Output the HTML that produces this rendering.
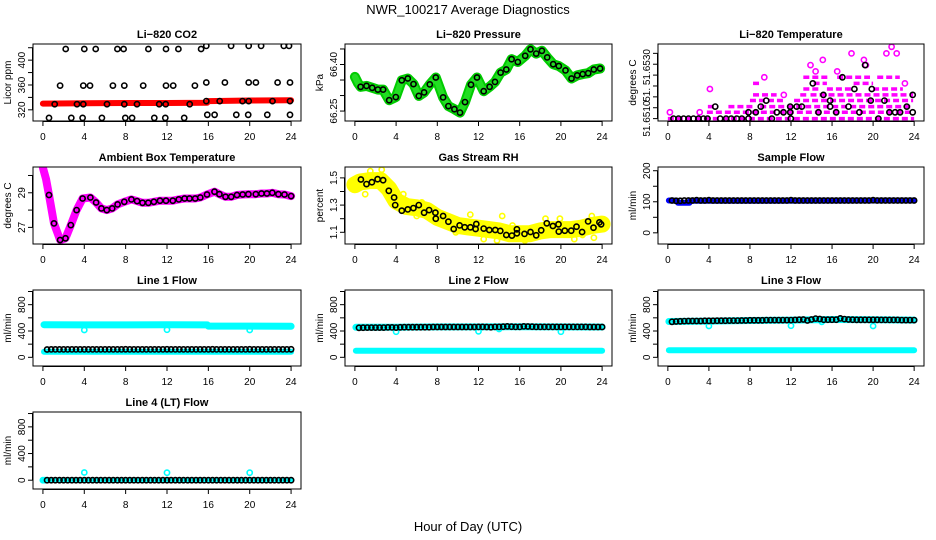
<!DOCTYPE html>
<html><head><meta charset="utf-8"><title>NWR_100217 Average Diagnostics</title>
<style>
html,body{margin:0;padding:0;background:#fff;}
svg{display:block;font-family:"Liberation Sans",Arial,sans-serif;}
</style></head>
<body>
<svg id="chart" width="936" height="540" viewBox="0 0 936 540" xmlns="http://www.w3.org/2000/svg">
<rect x="0" y="0" width="936" height="540" fill="#fff"/>
<text x="468" y="14" font-size="13" text-anchor="middle">NWR_100217  Average Diagnostics</text>
<text x="468" y="531" font-size="13" text-anchor="middle">Hour of Day (UTC)</text>
</svg>
<script>
// ---------- shared ----------
const xTicks = [0,4,8,12,16,20,24];
const H = [0.4,0.8,1.2,1.6,2,2.4,2.8,3.2,3.6,4,4.4,4.8,5.2,5.6,6,6.4,6.8,7.2,7.6,8,8.4,8.8,9.2,9.6,10,10.4,10.8,11.2,11.6,12,12.4,12.8,13.2,13.6,14,14.4,14.8,15.2,15.6,16,16.4,16.8,17.2,17.6,18,18.4,18.8,19.2,19.6,20,20.4,20.8,21.2,21.6,22,22.4,22.8,23.2,23.6,24];

// ---------- CO2 ----------
const co2BandT = [0,4,8,12,15.9,16,20,24];
const co2BandV = [330,330.5,331,331,331.5,334,335,335.5];
const co2T = [2.2,4.0,5.1,7.2,7.8,10.2,11.9,13.1,15.3,15.8,18.2,19.9,21.1,23.3,23.8,
  1.66,3.9,4.55,6.77,7.87,9.7,11.9,12.6,14.7,15.8,17.6,19.9,20.6,22.7,23.9,
  1.14,3.3,3.9,6.2,7.87,9.1,11.25,11.87,14.2,15.8,17.1,19.3,19.9,22.2,23.9,
  0.59,2.74,3.84,5.7,7.97,8.62,10.77,11.84,13.66,15.9,16.6,18.7,19.85,21.7,23.9];
const co2V = [418,418,418,418,418,418,418,418,418,423,423,423,423,423,423,
  359,359,359,359,359,359,359,359,359,364,364,364,364,364,364,
  329,329,329,329,329,329,329,329,329,334,334,334,334,334,334,
  307,307,307,307,307,307,307,307,307,312,312,312,312,312,312];

// ---------- Pressure ----------
const presT = [0.55,1.13,1.68,2.23,2.74,3.33,3.97,4.55,5.14,5.69,6.2,6.72,7.27,7.85,8.56,9.08,9.66,10.2,10.69,11.27,11.85,12.5,13.08,13.6,14.15,14.7,15.21,15.82,16.53,17.05,17.6,18.15,18.67,19.25,19.8,20.45,21.03,21.58,22.12,22.65,23.19,23.8];
const presV = [66.328,66.331,66.325,66.319,66.319,66.285,66.295,66.349,66.355,66.337,66.299,66.31,66.336,66.358,66.294,66.266,66.256,66.245,66.279,66.335,66.358,66.314,66.328,66.344,66.374,66.384,66.417,66.408,66.428,66.449,66.435,66.444,66.423,66.401,66.395,66.381,66.355,66.365,66.369,66.372,66.384,66.387];
const presBandT = [0,0.3].concat(presT);
const presBandV = [66.36,66.34].concat(presV);

// ---------- Li-820 temperature ----------
const tempSegStart = [0,3.8,3.9,5.9,9.0,8.0,12.3,8.3,12.9,13.9,13.2,15.5,20.0,8.3,14.2,18.1,13.2,16.5,20.4];
const tempSegEnd   = [24,23.9,4.8,8.3,23.9,11.4,23.9,10.6,13.5,23.9,14.8,18.1,22.9,9.0,15.5,20.0,15.8,19.7,22.6];
const tempSegV     = [51.6510,51.65129,51.65155,51.65155,51.65155,51.65183,51.65183,51.65209,51.65209,51.65209,51.65236,51.65236,51.65236,51.65262,51.65262,51.65262,51.65290,51.65290,51.65290];
const tempMagT = [4.1,9.4,13.9,14.4,15.1,16.5,17.9,19.1,19.3,21.3,21.8,22.3,23.1,11.3,0.2,3.1];
const tempMagV = [51.65236,51.65290,51.65346,51.65317,51.65370,51.65317,51.65400,51.65370,51.65346,51.65400,51.65430,51.65400,51.65262,51.65209,51.65129,51.65129];
const tempT = [0.55,1.04,1.53,2.01,2.5,2.99,3.47,3.86,4.61,5.1,5.68,6.17,6.72,7.21,7.86,7.86,8.57,9.06,9.58,10.13,10.62,11.27,11.92,11.92,11.98,12.56,13.05,14.12,14.68,15.16,15.81,15.81,16.4,17.01,17.6,18.18,18.67,19.22,19.77,19.87,20.52,21.1,21.59,22.14,22.63,23.28,23.86,23.86];
const tempV = [51.6510,51.6510,51.6510,51.6510,51.6510,51.6510,51.6510,51.6510,51.65155,51.6510,51.6510,51.6510,51.6510,51.6510,51.65129,51.6510,51.65129,51.65155,51.65183,51.6510,51.65129,51.65129,51.65155,51.65129,51.6510,51.65155,51.65155,51.65262,51.65129,51.65209,51.65155,51.65183,51.65129,51.65290,51.65155,51.65236,51.65129,51.65346,51.65183,51.65236,51.6510,51.65183,51.65129,51.65129,51.65129,51.65155,51.65209,51.65129];

// ---------- Ambient box temperature ----------
const ambT = [0.59,1.07,1.66,2.18,2.7,3.26,3.84,4.59,5.14,5.66,6.18,6.7,7.22,7.87,8.56,9.11,9.63,10.19,10.73,11.32,11.9,12.56,13.14,13.7,14.18,14.73,15.22,15.87,16.59,17.07,17.66,18.21,18.77,19.32,19.87,20.59,21.14,21.66,22.18,22.77,23.36,24.0];
const ambV = [28.87,27.23,26.27,26.37,27.13,28.0,28.67,28.73,28.44,28.1,28.0,28.1,28.33,28.48,28.62,28.52,28.42,28.42,28.48,28.54,28.54,28.54,28.62,28.67,28.67,28.67,28.73,28.9,29.06,28.92,28.77,28.77,28.87,28.9,28.92,28.92,28.96,28.96,29.0,28.92,28.9,28.81];
const ambBandT = [0,0.3].concat(ambT);
const ambBandV = [30.45,29.8].concat(ambV);

// ---------- Gas stream RH ----------
const rhT = [0.58,1.13,1.65,2.2,2.74,3.29,3.81,3.91,4.55,5.14,5.68,6.2,6.72,7.2,7.82,7.85,8.56,9.08,9.59,10.17,10.66,11.21,11.72,11.79,12.5,13.05,13.63,14.12,14.7,15.24,15.73,15.73,16.47,17.05,17.6,18.09,18.63,19.22,19.77,19.8,20.38,21.0,21.51,22.06,22.64,23.16,23.74,23.9];
const rhV = [1.488,1.454,1.468,1.49,1.483,1.405,1.356,1.30,1.259,1.268,1.278,1.30,1.244,1.263,1.244,1.2,1.22,1.178,1.124,1.151,1.137,1.137,1.124,1.161,1.127,1.117,1.117,1.11,1.08,1.076,1.093,1.122,1.088,1.102,1.078,1.115,1.166,1.146,1.159,1.105,1.112,1.112,1.141,1.102,1.18,1.134,1.173,1.159];
const rhBandT = [0,0.5,1.5,2.5,3.3,4.0,5.0,6.0,7.0,8.0,9.0,10.0,11.0,12.0,13.0,14.0,15.0,16.0,17.0,18.0,19.0,20.0,21.0,22.0,23.0,24.0];
const rhBandV = [1.45,1.47,1.48,1.48,1.42,1.33,1.29,1.28,1.26,1.21,1.18,1.15,1.14,1.13,1.12,1.11,1.09,1.09,1.09,1.11,1.12,1.12,1.12,1.13,1.15,1.16];
const rhYT = [1.0,1.5,2.6,3.9,4.7,6.5,8.0,11.2,14.3,15.3,16.5,18.5,19.9,23.0,23.2,12.5,13.8,21.3,22.1,0.1,6.0,9.8];
const rhYV = [1.38,1.55,1.56,1.41,1.38,1.32,1.24,1.23,1.22,1.15,1.04,1.2,1.2,1.22,1.06,1.05,1.04,1.05,1.08,1.45,1.22,1.1];

// ---------- Sample flow ----------
const sfBandT = [0.1,0.9,1.0,2.1,2.2,24];
const sfBandV = [104,103,97,97,103,104];
const sfV = [104,103,103,104,104,104,105,104,104,105,104,104,104,104,104,104,104,104,104,104,104,104,104,104,104,104,104,104,104,105,104,104,104,104,104,104,104,104,104,104,104,104,104,104,104,104,104,104,104,105,104,104,104,104,104,104,104,104,104,104];

// ---------- Line flows ----------
const l1UpT = [0.1,4,8,12,15.9,16,20,24];
const l1UpV = [495,493,493,495,493,475,475,472];
const l1LoT = [0.1,24];
const l1LoV = [85,85];
const l1DipT = [4,12,20];
const l1DipV = [415,420,415];
const l1V = [118,120,120,120,120,120,120,120,120,120,120,120,120,120,120,120,120,120,120,122,120,120,120,120,120,120,120,120,120,122,120,120,120,120,120,120,120,120,120,120,122,120,120,120,120,120,120,120,120,122,120,120,120,120,120,120,120,120,120,122];

const l2UpT = [0.1,4,8,12,16,20,24];
const l2UpV = [456,456,462,462,466,462,460];
const l2LoT = [0.1,24];
const l2LoV = [100,100];
const l2DipT = [4,12,20,14];
const l2DipV = [390,395,390,430];
const l2V = [448,450,452,452,452,452,452,454,454,452,456,458,458,458,458,458,458,458,460,460,460,460,460,460,460,460,460,460,460,462,462,460,458,462,462,466,470,466,462,462,470,468,466,462,462,462,462,462,462,462,462,462,462,462,462,462,460,460,460,460];

const l3UpT = [0.1,4,8,12,16,20,24];
const l3UpV = [545,550,560,565,575,570,565];
const l3LoT = [0.1,24];
const l3LoV = [106,106];
const l3DipT = [4,12,20,15];
const l3DipV = [476,480,476,540];
const l3V = [540,545,548,550,552,552,552,552,555,555,555,556,556,556,558,558,558,560,560,562,562,562,562,565,565,565,565,565,565,565,568,572,575,560,575,588,582,572,572,572,572,592,580,575,572,570,570,570,570,570,570,568,568,568,568,568,565,565,565,565];

const l4LoT = [0,24];
const l4LoV = [0,0];
const l4SpikeT = [4,12,20,0,0.2];
const l4SpikeV = [115,112,112,0,0];
const l4V = [0,0,0,0,0,0,0,0,0,0,0,0,0,0,0,0,0,0,0,0,0,0,0,0,0,0,0,0,0,0,0,0,0,0,0,0,0,0,0,0,0,0,0,0,0,0,0,0,0,0,0,0,0,0,0,0,0,0,0,0];

// ---------- drawing ----------
const NS = "http://www.w3.org/2000/svg";
const svg = document.getElementById('chart');
function mk(tag, attrs, parent){
  const e = document.createElementNS(NS, tag);
  for (const k in attrs) e.setAttribute(k, attrs[k]);
  (parent||svg).appendChild(e);
  return e;
}
const cols = [[33,301],[345,612],[658,924]];
const rows = [[44,121],[167,244],[290,366],[412,489]];

function panel(name, col, row, ylim, yticks, ylabels, ylab, title){
  const g = mk('g', {});
  
  
  const [x0,x1] = cols[col], [y0,y1] = rows[row];
  const sx = t => x0 + (t + 0.96) / 25.92 * (x1 - x0);
  const sy = v => y1 - (v - ylim[0]) / (ylim[1] - ylim[0]) * (y1 - y0);
  const P = {g, sx, sy, x0, x1, y0, y1};
  const cid = 'clip-' + name;
  const cp = mk('clipPath', {id: cid}, g);
  mk('rect', {x: x0, y: y0, width: x1 - x0, height: y1 - y0}, cp);
  P.plot = mk('g', {'clip-path': 'url(#' + cid + ')'}, g);
  
  
  const fr = mk('rect', {x: x0, y: y0, width: x1 - x0, height: y1 - y0, fill: 'none', stroke: '#000', 'stroke-width': 1}, g);
  
  
  const tt = mk('text', {x: (x0 + x1) / 2, y: y0 - 6, 'font-size': 11, 'font-weight': 'bold', 'text-anchor': 'middle'}, g);
  tt.textContent = title;
  
  
  const xa = mk('g', {}, g);
  
  
  mk('line', {x1: sx(xTicks[0]), x2: sx(xTicks[xTicks.length - 1]), y1: y1 + 0.5, y2: y1 + 0.5, stroke: '#000'}, xa);
  xTicks.forEach(t => {
    mk('line', {x1: sx(t), x2: sx(t), y1: y1, y2: y1 + 5, stroke: '#000'}, xa);
    const lb = mk('text', {x: sx(t), y: y1 + 19, 'font-size': 10, 'text-anchor': 'middle'}, xa);
    lb.textContent = t;
    
    
  });
  const ya = mk('g', {}, g);
  
  
  mk('line', {x1: x0 - 0.5, x2: x0 - 0.5, y1: sy(yticks[0]), y2: sy(yticks[yticks.length - 1]), stroke: '#000'}, ya);
  yticks.forEach(v => {
    mk('line', {x1: x0 - 5, x2: x0, y1: sy(v), y2: sy(v), stroke: '#000'}, ya);
  });
  ylabels.forEach(l => {
    const y = sy(l[0]) + (l[2]||0);
    const lb = mk('text', {x: x0 - 8, y: y, 'font-size': 10, 'text-anchor': 'middle', transform: 'rotate(-90 ' + (x0 - 8) + ' ' + y + ')'}, ya);
    lb.textContent = l[1];
    
    
  });
  const yl = mk('text', {x: x0 - 22, y: (y0 + y1) / 2, 'font-size': 10, 'text-anchor': 'middle', transform: 'rotate(-90 ' + (x0 - 22) + ' ' + ((y0 + y1) / 2) + ')'}, g);
  yl.textContent = ylab;
  
  
  return P;
}
function band(P, T, V, color, w, nm){
  const d = T.map((t, i) => (i ? 'L' : 'M') + P.sx(t).toFixed(1) + ' ' + P.sy(V[i]).toFixed(1)).join(' ');
  const p = mk('path', {d, fill: 'none', stroke: color, 'stroke-width': w, 'stroke-linejoin': 'round', 'stroke-linecap': 'round'}, P.plot);
  
  
}
function segs(P, S, E, V, color, w, nm){
  S.forEach((s, i) => {
    const l = mk('line', {x1: P.sx(s), x2: P.sx(E[i]), y1: P.sy(V[i]), y2: P.sy(V[i]), stroke: color, 'stroke-width': w, 'stroke-dasharray': '6 3'}, P.plot);
    
    
  });
}
function pts(P, T, V, color, nm){
  T.forEach((t, i) => {
    const c = mk('circle', {cx: P.sx(t).toFixed(1), cy: P.sy(V[i]).toFixed(1), r: 2.6, fill: 'none', stroke: color, 'stroke-width': 1.6}, P.plot);
    
    
  });
}

let P = panel('co2', 0, 0, [302, 426], [320,340,360,380,400,420], [[320,'320'],[360,'360'],[400,'400']], 'Licor ppm', 'Li\u2212820 CO2');
band(P, co2BandT, co2BandV, '#ff0000', 6, 'co2-band');
pts(P, co2T, co2V, '#000', 'co2-point');

P = panel('pressure', 1, 0, [66.218, 66.466], [66.25,66.30,66.35,66.40,66.45], [[66.25,'66.25'],[66.40,'66.40']], 'kPa', 'Li\u2212820 Pressure');
band(P, presBandT, presBandV, '#00cc00', 10, 'pressure-band');
band(P, presBandT, presBandV, '#22dd22', 6, 'pressure-band-inner');
pts(P, presT, presV, '#000', 'pressure-point');

P = panel('li820-temp', 2, 0, [51.65089, 51.65443], [51.6510,51.6515,51.6520,51.6525,51.6530,51.6535,51.6540], [[51.6510,'51.6510'],[51.6520,'51.',-2],[51.6530,'51.6530',-8]], 'degrees C', 'Li\u2212820 Temperature');
segs(P, tempSegStart, tempSegEnd, tempSegV, '#ff00ff', 3.5, 'li820-temp-band');
pts(P, tempMagT, tempMagV, '#ff00ff', 'li820-temp-raw-point');
pts(P, tempT, tempV, '#000', 'li820-temp-point');

P = panel('ambient-temp', 0, 1, [26.04, 30.49], [27,28,29,30], [[27,'27'],[29,'29']], 'degrees C', 'Ambient Box Temperature');
band(P, ambBandT, ambBandV, '#ff00ff', 8, 'ambient-temp-band');
pts(P, ambT, ambV, '#000', 'ambient-temp-point');

P = panel('rh', 1, 1, [1.014, 1.58], [1.1,1.2,1.3,1.4,1.5], [[1.1,'1.1'],[1.3,'1.3'],[1.5,'1.5']], 'percent', 'Gas Stream RH');
band(P, rhBandT, rhBandV, '#ffff00', 17, 'rh-band');
pts(P, rhYT, rhYV, '#ffff00', 'rh-raw-point');
pts(P, rhT, rhV, '#000', 'rh-point');

P = panel('sample-flow', 2, 1, [-36, 212], [0,50,100,150,200], [[0,'0'],[100,'100'],[200,'200']], 'ml/min', 'Sample Flow');
band(P, sfBandT, sfBandV, '#0000ff', 6, 'sample-flow-band');
pts(P, H, sfV, '#000', 'sample-flow-point');

const flowLim = [-132, 1023], flowTicks = [0,200,400,600,800,1000], flowLabels = [[0,'0'],[400,'400'],[800,'800']];
P = panel('line1-flow', 0, 2, flowLim, flowTicks, flowLabels, 'ml/min', 'Line 1 Flow');
band(P, l1UpT, l1UpV, '#00ffff', 7, 'line1-upper-band');
band(P, l1LoT, l1LoV, '#00ffff', 6, 'line1-lower-band');
pts(P, l1DipT, l1DipV, '#00ffff', 'line1-raw-point');
pts(P, H, l1V, '#000', 'line1-point');
P = panel('line2-flow', 1, 2, flowLim, flowTicks, flowLabels, 'ml/min', 'Line 2 Flow');
band(P, l2UpT, l2UpV, '#00ffff', 7, 'line2-upper-band');
band(P, l2LoT, l2LoV, '#00ffff', 6, 'line2-lower-band');
pts(P, l2DipT, l2DipV, '#00ffff', 'line2-raw-point');
pts(P, H, l2V, '#000', 'line2-point');
P = panel('line3-flow', 2, 2, flowLim, flowTicks, flowLabels, 'ml/min', 'Line 3 Flow');
band(P, l3UpT, l3UpV, '#00ffff', 7, 'line3-upper-band');
band(P, l3LoT, l3LoV, '#00ffff', 6, 'line3-lower-band');
pts(P, l3DipT, l3DipV, '#00ffff', 'line3-raw-point');
pts(P, H, l3V, '#000', 'line3-point');
P = panel('line4-flow', 0, 3, flowLim, flowTicks, flowLabels, 'ml/min', 'Line 4 (LT) Flow');
band(P, l4LoT, l4LoV, '#00ffff', 5, 'line4-band');
pts(P, l4SpikeT, l4SpikeV, '#00ffff', 'line4-raw-point');
pts(P, H, l4V, '#000', 'line4-point');
</script>
</body></html>
